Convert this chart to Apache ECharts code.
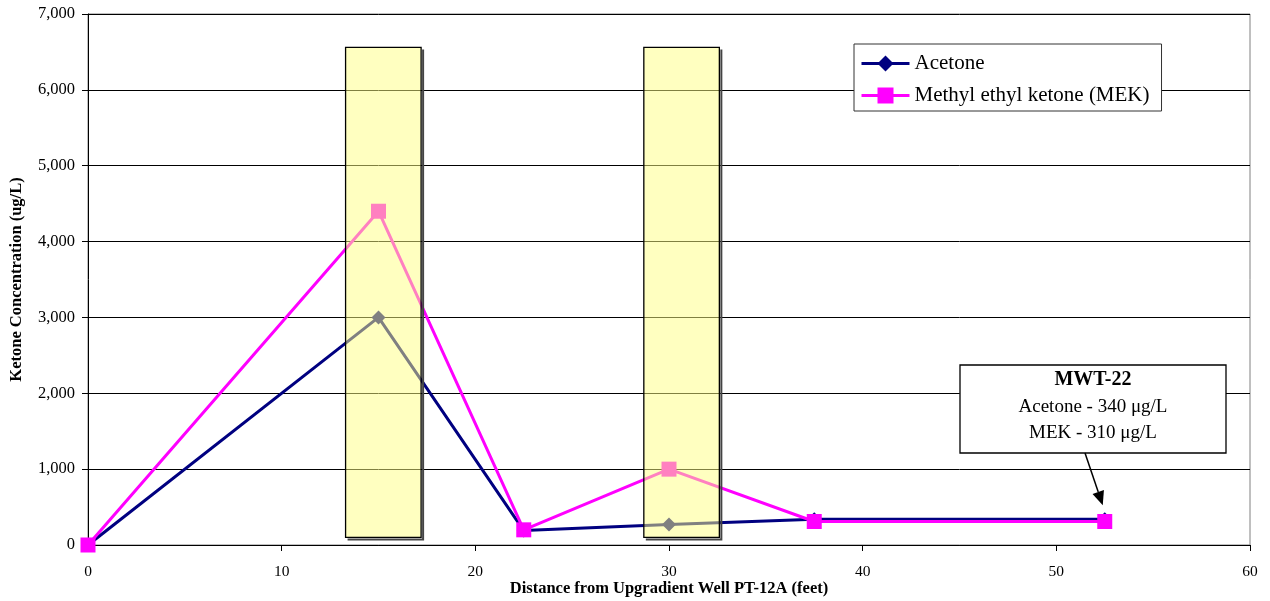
<!DOCTYPE html>
<html>
<head>
<meta charset="utf-8">
<script src="https://cdn.jsdelivr.net/npm/echarts@6/dist/echarts.min.js"></script>
<style>
  html, body { margin: 0; padding: 0; background: #fff; }
  #chart { width: 1270px; height: 601px; }
</style>
</head>
<body>
<div id="chart"></div>
<script>
// Sampling distances (feet) and measured ketone concentrations (ug/L)
const distances = [0, 15, 22.5, 30, 37.5, 52.5];
const acetone   = [0, 3000, 190, 270, 340, 340];
const mek       = [0, 4400, 200, 1000, 310, 310];

// Highlighted zones: [xStart, xEnd, yBottom, yTop]
const zones = [
  [13.3, 17.2, 100, 6560],
  [28.7, 32.6, 100, 6560]
];

const xTicks = { min: 0, max: 60, interval: 10 };
const yTicks = { min: 0, max: 7000, interval: 1000 };

// Annotated well
const noteTitle = 'MWT-22';
const noteLines = ['Acetone - 340 \u03bcg/L', 'MEK - 310 \u03bcg/L'];
const notePoint = [52.5, 340];

const font = '"Liberation Serif", "Times New Roman", serif';

const chart = echarts.init(document.getElementById('chart'));

const pairs = arr => distances.map((d, i) => [d, arr[i]]);

chart.setOption({
  animation: false,
  backgroundColor: '#fff',
  textStyle: { fontFamily: font },
  grid: {
    left: 88, right: 20, top: 14, bottom: 56,
    outerBoundsMode: 'none',
    containLabel: false,
    show: true, borderColor: '#808080', borderWidth: 1
  },
  legend: {
    orient: 'vertical',
    left: 854, top: 44,
    padding: [9, 12, 5, 6],
    itemGap: 11,
    itemWidth: 48,
    itemHeight: 20,
    borderColor: '#333', borderWidth: 1,
    backgroundColor: '#fff',
    lineStyle: { width: 3 },
    textStyle: { fontFamily: font, fontSize: 21, color: '#000' },
    data: ['Acetone', 'Methyl ethyl ketone (MEK)']
  },
  xAxis: {
    type: 'value',
    min: xTicks.min, max: xTicks.max, interval: xTicks.interval,
    name: 'Distance from Upgradient Well PT-12A (feet)',
    nameLocation: 'middle',
    nameGap: 35,
    nameMoveOverlap: false,
    nameTextStyle: { fontFamily: font, fontSize: 16.5, fontWeight: 'bold', color: '#000' },
    axisLine: { lineStyle: { color: '#000', width: 1 } },
    axisTick: { show: true, length: 6, lineStyle: { color: '#000' } },
    axisLabel: { fontFamily: font, fontSize: 15.5, color: '#000', margin: 19 },
    splitLine: { show: false }
  },
  yAxis: {
    type: 'value',
    min: yTicks.min, max: yTicks.max, interval: yTicks.interval,
    name: 'Ketone Concentration (ug/L)',
    nameLocation: 'middle',
    nameGap: 63,
    nameMoveOverlap: false,
    nameTextStyle: { fontFamily: font, fontSize: 16.5, fontWeight: 'bold', color: '#000' },
    axisLine: { show: true, lineStyle: { color: '#000', width: 1 } },
    axisTick: { show: true, length: 6, lineStyle: { color: '#000' } },
    axisLabel: {
      fontFamily: font, fontSize: 16.5, color: '#000', margin: 13,
      formatter: v => v.toLocaleString('en-US')
    },
    splitLine: { show: true, lineStyle: { color: '#000', width: 1 } }
  },
  series: [
    {
      name: 'Acetone',
      type: 'line',
      data: pairs(acetone),
      color: '#000080',
      lineStyle: { width: 3, color: '#000080' },
      symbol: 'diamond',
      symbolSize: 14,
      itemStyle: { color: '#000080' },
      z: 2
    },
    {
      name: 'Methyl ethyl ketone (MEK)',
      type: 'line',
      data: pairs(mek),
      color: '#ff00ff',
      lineStyle: { width: 3, color: '#ff00ff' },
      symbol: 'rect',
      symbolSize: 15,
      itemStyle: { color: '#ff00ff' },
      z: 3
    },
    {
      name: 'zones',
      type: 'custom',
      data: zones,
      z: 10,
      silent: true,
      renderItem: (params, api) => {
        const p0 = api.coord([api.value(0), api.value(3)]);
        const p1 = api.coord([api.value(1), api.value(2)]);
        const x = p0[0], y = p0[1], w = p1[0] - p0[0], h = p1[1] - p0[1];
        const s = 2;
        return {
          type: 'group',
          children: [
            {
              type: 'polyline',
              shape: { points: [[x + w + s, y + s], [x + w + s, y + h + s], [x + s, y + h + s]] },
              style: { fill: 'none', stroke: '#444', lineWidth: 2 }
            },
            {
              type: 'rect',
              shape: { x: x, y: y, width: w, height: h },
              style: { fill: 'rgba(255,255,130,0.5)', stroke: '#000', lineWidth: 1.3 }
            }
          ]
        };
      }
    }
  ]
});

// Callout box with arrow pointing at the annotated well
function drawNote() {
  const target = chart.convertToPixel({ gridIndex: 0 }, notePoint);
  const boxX = 960, boxY = 365, boxW = 266, boxH = 88;
  const ax0 = 1085, ay0 = boxY + boxH;
  const ax1 = target[0] - 2, ay1 = target[1] - 14;
  const ang = Math.atan2(ay1 - ay0, ax1 - ax0);
  const hl = 14, hw = 6;
  const bx = ax1 - hl * Math.cos(ang), by = ay1 - hl * Math.sin(ang);
  const nx = -Math.sin(ang) * hw, ny = Math.cos(ang) * hw;
  chart.setOption({
    graphic: [
      {
        type: 'rect', z: 20,
        shape: { x: boxX, y: boxY, width: boxW, height: boxH },
        style: { fill: '#fff', stroke: '#000', lineWidth: 1.3 }
      },
      {
        type: 'text', z: 21,
        x: boxX + boxW / 2, y: boxY + 15,
        style: { text: noteTitle, font: 'bold 20px ' + font, fill: '#000', align: 'center', verticalAlign: 'middle' }
      },
      {
        type: 'text', z: 21,
        x: boxX + boxW / 2, y: boxY + 42,
        style: { text: noteLines[0], font: '19px ' + font, fill: '#000', align: 'center', verticalAlign: 'middle' }
      },
      {
        type: 'text', z: 21,
        x: boxX + boxW / 2, y: boxY + 68,
        style: { text: noteLines[1], font: '19px ' + font, fill: '#000', align: 'center', verticalAlign: 'middle' }
      },
      {
        type: 'line', z: 20,
        shape: { x1: ax0, y1: ay0, x2: bx, y2: by },
        style: { stroke: '#000', lineWidth: 1.5 }
      },
      {
        type: 'polygon', z: 20,
        shape: { points: [[ax1, ay1], [bx + nx, by + ny], [bx - nx, by - ny]] },
        style: { fill: '#000' }
      }
    ]
  });
}
drawNote();
</script>
</body>
</html>
